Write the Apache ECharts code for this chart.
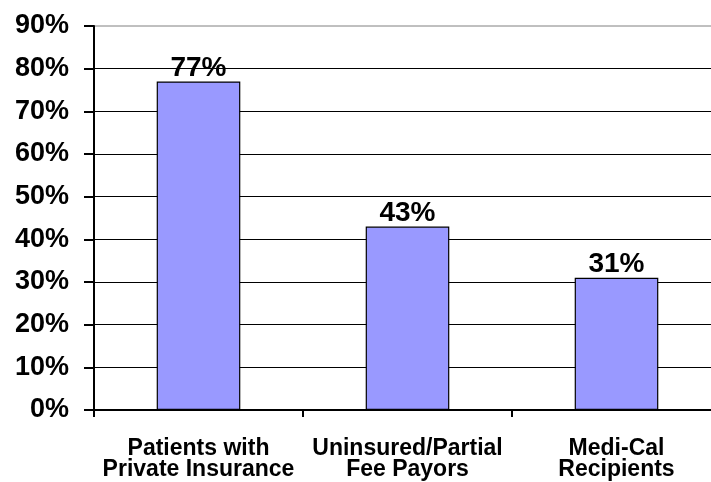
<!DOCTYPE html>
<html>
<head>
<meta charset="utf-8">
<script src="https://cdn.jsdelivr.net/npm/echarts@6/dist/echarts.min.js"></script>
<style>
html,body{margin:0;padding:0;background:#fff;}
#chart{width:711px;height:482px;}
</style>
</head>
<body>
<div id="chart"></div>
<script>
const categories = ["Patients with\nPrivate Insurance", "Uninsured/Partial\nFee Payors", "Medi-Cal\nRecipients"];
const values = [77, 43, 31];
const yTicks = [0, 10, 20, 30, 40, 50, 60, 70, 80, 90];

const chart = echarts.init(document.getElementById('chart'), null, {renderer: 'canvas'});
chart.setOption({
  animation: false,
  backgroundColor: '#ffffff',
  grid: {
    left: 94, top: 26, width: 627, height: 384,
    outerBoundsMode: 'none', containLabel: false,
    show: true, borderColor: '#808080', borderWidth: 1, backgroundColor: 'transparent'
  },
  xAxis: {
    type: 'category',
    data: categories,
    axisLine: {lineStyle: {color: '#000', width: 2}},
    axisTick: {show: true, alignWithLabel: false, length: 7, lineStyle: {color: '#000', width: 2}},
    axisLabel: {
      interval: 0, margin: 28,
      fontFamily: 'Liberation Sans', fontWeight: 'bold', fontSize: 23, lineHeight: 21, color: '#000'
    }
  },
  yAxis: {
    type: 'value',
    min: yTicks[0], max: yTicks[yTicks.length - 1], interval: 10,
    axisLine: {show: true, lineStyle: {color: '#000', width: 2}},
    axisTick: {show: true, length: 10, lineStyle: {color: '#000', width: 2}},
    axisLabel: {
      formatter: '{value}%', margin: 25,
      fontFamily: 'Liberation Sans', fontWeight: 'bold', fontSize: 27, color: '#000'
    },
    splitLine: {show: true, showMaxLine: false, lineStyle: {color: '#000', width: 1}}
  },
  series: [{
    type: 'bar',
    data: values,
    barWidth: '40%',
    itemStyle: {color: '#9999FF', borderColor: '#000', borderWidth: 1.2},
    label: {
      show: true, position: 'top', distance: -1,
      formatter: '{c}%',
      fontFamily: 'Liberation Sans', fontWeight: 'bold', fontSize: 28, color: '#000'
    }
  }]
});
</script>
</body>
</html>
